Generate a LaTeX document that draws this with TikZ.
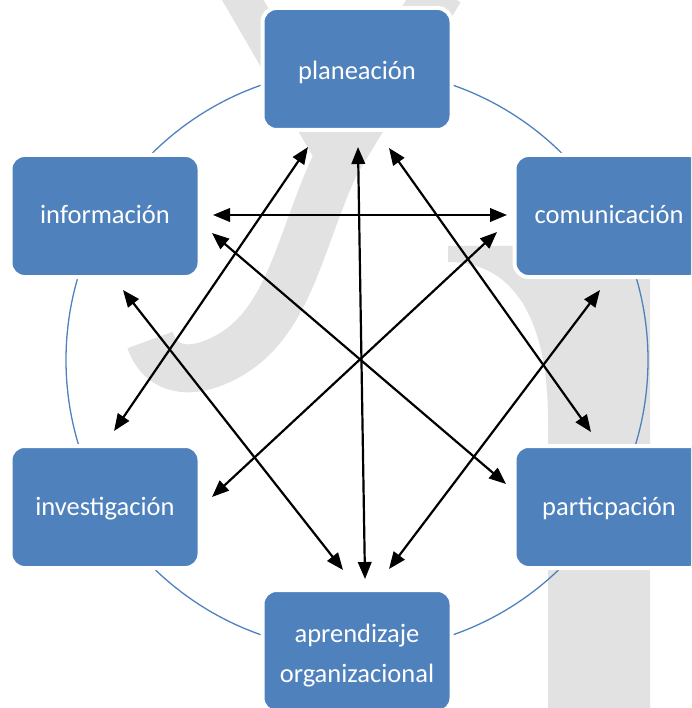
\documentclass[tikz,border=0pt]{standalone}
\usepackage{fontspec}
\setmainfont{Carlito}
\usetikzlibrary{arrows.meta}
\definecolor{boxblue}{RGB}{79,129,189}
\definecolor{wm}{RGB}{226,226,226}
\begin{document}
\begin{tikzpicture}[x=1pt,y=-1pt,
  blk/.style={draw=white, line width=4pt, fill=boxblue, rounded corners=14pt,
    minimum width=189pt, minimum height=122pt, text=white,
    font=\fontsize{26.5}{40}\selectfont, align=center, inner sep=0pt,
    text height=16pt, text depth=0pt},
  blkhi/.style={blk, text height=22pt},
  blktwo/.style={blk, text height=62pt},
  arr/.style={line width=2.2pt, {Triangle[length=17pt,width=13.5pt]}-{Triangle[length=17pt,width=13.5pt]}},
  ring/.style={draw=boxblue, line width=1.3pt}]
\useasboundingbox (0,0) rectangle (691,708);
\clip (0,0) rectangle (691,708);
% watermark
\fill[wm] (448,246) -- (650,246) -- (650,708) -- (548,708) -- (548,420)
  .. controls (548,330) and (520,262) .. (448,262) -- cycle;
\draw[wm, line width=36pt] (237,-10) -- (330,150);
\draw[wm, line width=48pt] (440,-10) -- (335,165)
  .. controls (300,240) and (290,320) .. (230,355)
  .. controls (190,378) and (160,370) .. (150,340);
% ring
\draw[ring] (357,360) circle[radius=291pt];
% boxes
\node[blkhi] (plan) at (357,69) {planeación};
\node[blk] (info) at (105,216) {información};
\node[blk] (comu) at (609,216) {comunicación};
\node[blk] (inve) at (105,507) {investigación};
\node[blk] (part) at (609,507) {particpación};
\node[blktwo] (apre) at (357,651) {aprendizaje\\organizacional};
% arrow ends
\coordinate (a1) at (213,215); \coordinate (b1) at (507,215);
\coordinate (a2) at (212,233); \coordinate (b2) at (506,484);
\coordinate (a3) at (308,147); \coordinate (b3) at (114,431);
\coordinate (a4) at (358,147); \coordinate (b4) at (365,579);
\coordinate (a5) at (389,148); \coordinate (b5) at (591,432);
\coordinate (a6) at (497,232); \coordinate (b6) at (212,497);
\coordinate (a7) at (600,290); \coordinate (b7) at (389,569);
\coordinate (a8) at (123,290); \coordinate (b8) at (343,570);
\draw[arr] (a1) -- (b1);
\draw[arr] (a2) -- (b2);
\draw[arr] (a3) -- (b3);
\draw[arr] (a4) -- (b4);
\draw[arr] (a5) -- (b5);
\draw[arr] (a6) -- (b6);
\draw[arr] (a7) -- (b7);
\draw[arr] (a8) -- (b8);
\end{tikzpicture}
\end{document}
